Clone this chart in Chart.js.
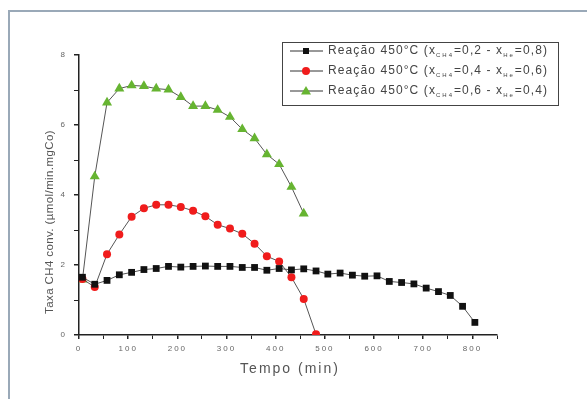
<!DOCTYPE html>
<html>
<head>
<meta charset="utf-8">
<script src="https://cdn.jsdelivr.net/npm/chart.js@4.4.1/dist/chart.umd.min.js"></script>
<style>
  html, body { margin: 0; padding: 0; background: #fff; }
  #wrap { position: relative; width: 587px; height: 399px; overflow: hidden; }
  #frame { position: absolute; left: 8px; top: 10px; width: 700px; height: 500px;
           border-left: 2px solid #9aa9b8; border-top: 2px solid #9aa9b8; }
  canvas { position: absolute; left: 0; top: 0; }
</style>
</head>
<body>
<div id="wrap">
  <div id="frame"></div>
  <canvas id="chart" width="587" height="399"></canvas>
</div>
<script>
// tempo (min) for each series
const timeA = [7, 32, 57, 82, 107, 132, 157, 182, 207, 232, 257, 282, 307, 332, 357, 382, 407, 432, 457, 482,
               506, 531, 556, 581, 606, 631, 656, 681, 706, 731, 755, 780, 805];
const rateA = [1.65, 1.45, 1.56, 1.72, 1.79, 1.87, 1.90, 1.96, 1.94, 1.96, 1.97, 1.96, 1.96, 1.93, 1.93, 1.85, 1.90, 1.86, 1.89, 1.83,
               1.74, 1.77, 1.71, 1.68, 1.69, 1.53, 1.50, 1.46, 1.34, 1.24, 1.13, 0.82, 0.36];

const timeB = [7, 32, 57, 82, 107, 132, 157, 182, 207, 232, 257, 282, 307, 332, 357, 382, 407, 432, 457, 482];
const rateB = [1.60, 1.37, 2.31, 2.87, 3.38, 3.62, 3.72, 3.72, 3.66, 3.55, 3.39, 3.15, 3.04, 2.89, 2.61, 2.25, 2.10, 1.65, 1.03, 0.02];

const timeC = [7, 32, 57, 82, 107, 132, 157, 182, 207, 232, 257, 282, 307, 332, 357, 382, 407, 432, 457];
const rateC = [1.58, 4.53, 6.64, 7.04, 7.13, 7.11, 7.04, 7.01, 6.80, 6.54, 6.54, 6.43, 6.23, 5.88, 5.62, 5.16, 4.88, 4.23, 3.47];

const seriesNames = [
  ['Reação 450°C (x', 'CH4', '=0,2 - x', 'He', '=0,8)'],
  ['Reação 450°C (x', 'CH4', '=0,4 - x', 'He', '=0,6)'],
  ['Reação 450°C (x', 'CH4', '=0,6 - x', 'He', '=0,4)']
];
const xTitle = 'Tempo (min)';
const yTitle = 'Taxa CH4 conv. (µmol/min.mgCo)';

const toPoints = (xs, ys) => xs.map((x, i) => ({ x: x, y: ys[i] }));

const FONT = '"Liberation Sans", Arial, sans-serif';

// letter spacing for axis text, plus own titles and legend
const textPlugin = {
  id: 'textPlugin',
  beforeDraw(chart) {
    chart.ctx.letterSpacing = '2px';
  },
  afterDraw(chart) {
    const ctx = chart.ctx;
    ctx.save();
    ctx.fillStyle = '#555';

    // y title
    ctx.letterSpacing = '0.4px';
    ctx.font = '11.5px ' + FONT;
    ctx.textAlign = 'center';
    ctx.textBaseline = 'middle';
    ctx.translate(50, 222);
    ctx.rotate(-Math.PI / 2);
    ctx.fillText(yTitle, 0, 0);
    ctx.setTransform(1, 0, 0, 1, 0, 0);

    // x title
    ctx.letterSpacing = '2px';
    ctx.font = '14px ' + FONT;
    ctx.fillText(xTitle, 290, 369);

    // legend box
    ctx.strokeStyle = '#444';
    ctx.lineWidth = 1;
    ctx.strokeRect(282.5, 42.5, 276, 63);
    ctx.textAlign = 'left';
    const ds = chart.data.datasets;
    seriesNames.forEach((parts, i) => {
      const y = 51 + i * 20;
      ctx.strokeStyle = '#333';
      ctx.beginPath();
      ctx.moveTo(290, y);
      ctx.lineTo(323, y);
      ctx.stroke();
      const d = ds[i];
      ctx.fillStyle = d.pointBackgroundColor;
      ctx.beginPath();
      if (d.pointStyle === 'rect') {
        ctx.rect(303, y - 3, 6, 6);
      } else if (d.pointStyle === 'circle') {
        ctx.arc(306, y, 4, 0, Math.PI * 2);
      } else {
        ctx.moveTo(306, y - 5);
        ctx.lineTo(311, y + 3.5);
        ctx.lineTo(301, y + 3.5);
        ctx.closePath();
      }
      ctx.fill();

      let x = 328;
      ctx.fillStyle = '#444';
      parts.forEach((p, k) => {
        const sub = k % 2 === 1;
        ctx.font = (sub ? '6px ' : '12px ') + FONT;
        ctx.letterSpacing = sub ? '2px' : '1.1px';
        ctx.fillText(p, x, sub ? y + 4 : y);
        x += ctx.measureText(p).width;
      });
    });
    ctx.restore();
  }
};

new Chart(document.getElementById('chart'), {
  type: 'scatter',
  data: {
    datasets: [
      {
        data: toPoints(timeA, rateA),
        showLine: true,
        borderColor: '#555',
        borderWidth: 1,
        pointStyle: 'rect',
        pointRadius: 4.8,
        pointBackgroundColor: '#111',
        pointBorderColor: '#111',
        pointBorderWidth: 0
      },
      {
        data: toPoints(timeB, rateB),
        showLine: true,
        borderColor: '#555',
        borderWidth: 1,
        pointStyle: 'circle',
        pointRadius: 4,
        pointBackgroundColor: '#f01c1c',
        pointBorderColor: '#f01c1c',
        pointBorderWidth: 0
      },
      {
        data: toPoints(timeC, rateC),
        showLine: true,
        borderColor: '#555',
        borderWidth: 1,
        pointStyle: 'triangle',
        pointRadius: 5.8,
        pointBackgroundColor: '#66b431',
        pointBorderColor: '#66b431',
        pointBorderWidth: 0
      }
    ]
  },
  options: {
    responsive: false,
    animation: false,
    layout: { padding: { left: 0, top: 55, right: 90, bottom: 0 } },
    plugins: { legend: { display: false }, tooltip: { enabled: false } },
    scales: {
      x: {
        type: 'linear',
        min: 0,
        max: 850,
        afterFit: s => { s.height = 64; },
        border: { display: true, color: '#222', width: 1.5 },
        grid: { drawOnChartArea: false, drawTicks: true, tickLength: 4, color: '#222',
                lineWidth: c => (c.tick && c.tick.value % 100 === 0 ? 1.5 : 1) },
        ticks: {
          stepSize: 50,
          padding: 5,
          color: '#666',
          font: { size: 8, family: FONT },
          maxRotation: 0,
          autoSkip: false,
          callback: v => (v % 100 === 0 && v <= 800 ? v : '')
        }
      },
      y: {
        min: 0,
        max: 8,
        afterFit: s => { s.width = 79; },
        border: { display: true, color: '#222', width: 1.5 },
        grid: { drawOnChartArea: false, drawTicks: true, tickLength: 5, color: '#222',
                lineWidth: c => (c.tick && c.tick.value % 2 === 0 ? 1.5 : 1) },
        ticks: {
          stepSize: 1,
          padding: 7,
          color: '#666',
          font: { size: 8, family: FONT },
          autoSkip: false,
          callback: v => (v % 2 === 0 ? v : '')
        }
      }
    }
  },
  plugins: [textPlugin]
});
</script>
</body>
</html>
